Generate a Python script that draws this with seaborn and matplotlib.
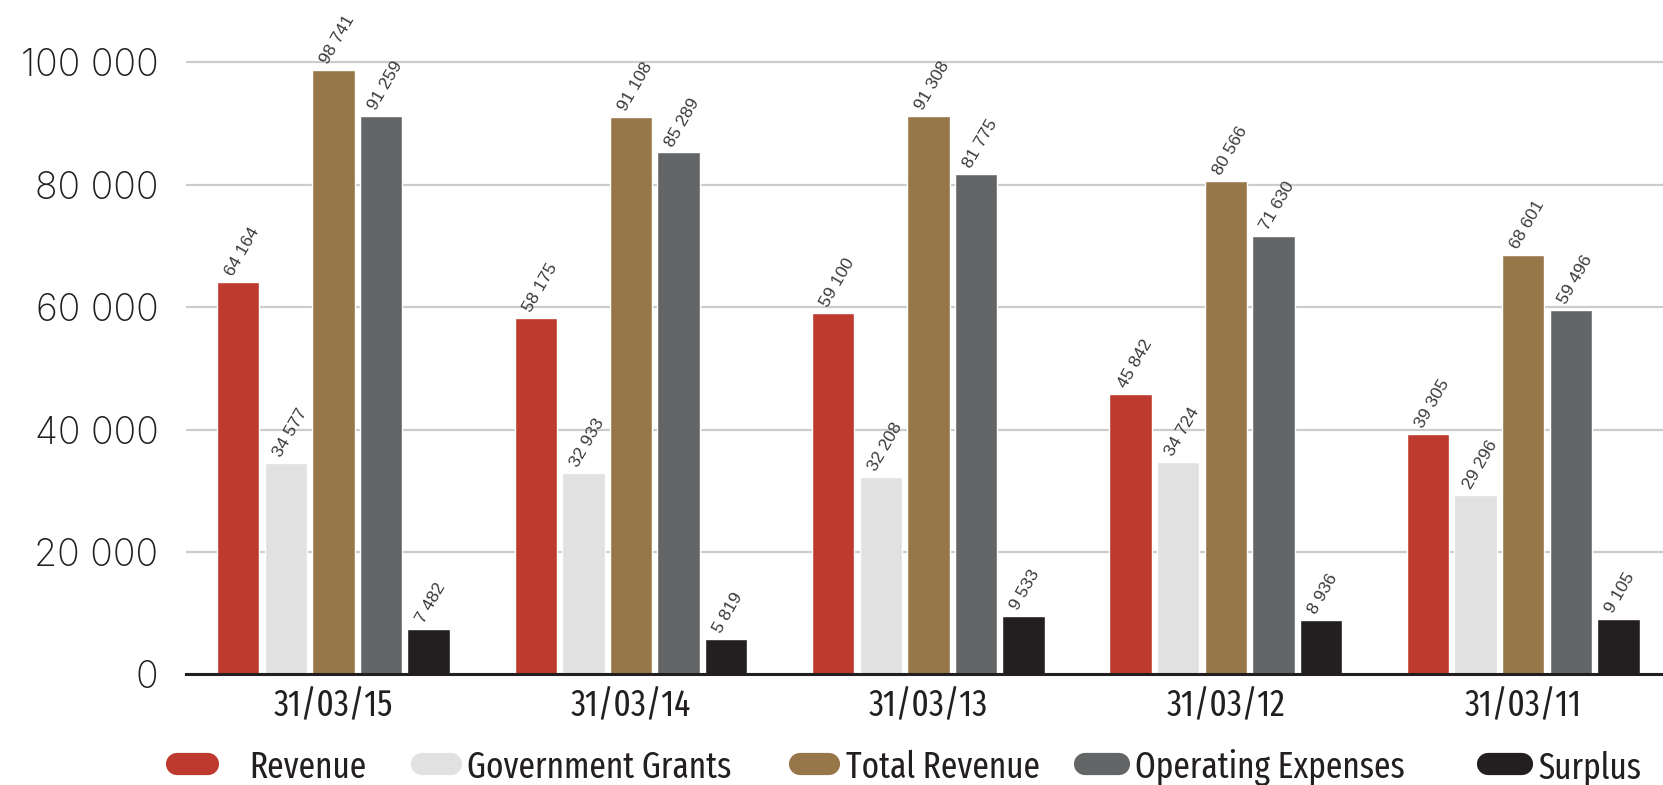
import matplotlib
matplotlib.use("Agg")
import matplotlib.pyplot as plt
import matplotlib.transforms as mtransforms
from matplotlib.lines import Line2D
import seaborn as sns
import pandas as pd

dates = ["31/03/15", "31/03/14", "31/03/13", "31/03/12", "31/03/11"]
series = ["Revenue", "Government Grants", "Total Revenue", "Operating Expenses", "Surplus"]
revenue = [64164, 58175, 59100, 45842, 39305]
grants = [34577, 32933, 32208, 34724, 29296]
total_revenue = [98741, 91108, 91308, 80566, 68601]
opex = [91259, 85289, 81775, 71630, 59496]
surplus = [7482, 5819, 9533, 8936, 9105]
colors = ["#BE3A2E", "#E0E1E0", "#97774A", "#646567", "#231F20"]
yticks = [0, 20000, 40000, 60000, 80000, 100000]

rows = []
for name, vals in zip(series, [revenue, grants, total_revenue, opex, surplus]):
    for d, v in zip(dates, vals):
        rows.append({"date": d, "series": name, "value": v})
df = pd.DataFrame(rows)

sns.set_style("white")
narrow = ["Fira Sans Extra Condensed", "DejaVu Sans"]


def fmt(v):
    return f"{int(v):,}".replace(",", " ")


fig = plt.figure(figsize=(16.63, 7.85), dpi=100)
ax = fig.add_axes([0.112, 0.141, 0.888, 0.859])

sns.barplot(data=df, x="date", y="value", hue="series", order=dates,
            hue_order=series, palette=colors, width=0.8, gap=0.11,
            saturation=1, legend=False, ax=ax, errorbar=None)

# rotated value labels above each bar
for cont in ax.containers:
    for bar in cont:
        h = bar.get_height()
        x = bar.get_x() + bar.get_width() * 0.38
        ax.text(x, h + 800, fmt(h), rotation=60, rotation_mode="anchor",
                ha="left", va="baseline", fontsize=12.5, color="#3A3A3A",
                fontfamily="Liberation Sans", clip_on=False)

ax.set_xlim(-0.495, 4.47)
ax.set_ylim(0, 110200)
ax.set_yticks(yticks)
ax.set_yticklabels([fmt(t) for t in yticks], fontsize=27, color="#231F20",
                   fontfamily="Inter", fontweight="light")
offset = mtransforms.ScaledTranslation(0, -9 / 100, fig.dpi_scale_trans)
for lab in ax.get_yticklabels():
    lab.set_transform(lab.get_transform() + offset)
ax.tick_params(axis="y", length=0, pad=20)
ax.tick_params(axis="x", length=0, pad=10)
for lab in ax.get_xticklabels():
    lab.set_fontfamily(narrow)
    lab.set_fontweight("normal")
    lab.set_fontsize(26)
    lab.set_color("#231F20")

ax.grid(axis="y", color="#CCCCCC", linewidth=1.6)
ax.set_axisbelow(True)
ax.set_xlabel("")
ax.set_ylabel("")
for s in ["left", "right", "top"]:
    ax.spines[s].set_visible(False)
ax.spines["bottom"].set_color("#231F20")
ax.spines["bottom"].set_linewidth(2.2)

# legend with pill-shaped markers
W, H = 1663.0, 785.0
leg_y = 1 - 764 / H
marker_x = [(177, 208), (422, 451), (800, 829), (1085, 1119), (1488, 1522)]
text_x = [249, 467, 846, 1135, 1538]
for (x0, x1), tx, name, c in zip(marker_x, text_x, series, colors):
    fig.add_artist(Line2D([x0 / W, x1 / W], [leg_y, leg_y], color=c, linewidth=16,
                          solid_capstyle="round", transform=fig.transFigure))
    fig.text(tx / W, leg_y, name, ha="left", va="center_baseline", fontsize=26,
             fontfamily=narrow, fontweight="normal", color="#231F20")

fig.savefig("out.png", dpi=100)
